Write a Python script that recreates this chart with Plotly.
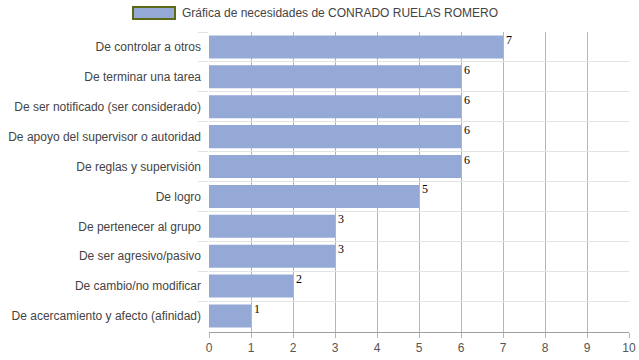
import plotly.graph_objects as go

categories = [
    "De controlar a otros",
    "De terminar una tarea",
    "De ser notificado (ser considerado)",
    "De apoyo del supervisor o autoridad",
    "De reglas y supervisión",
    "De logro",
    "De pertenecer al grupo",
    "De ser agresivo/pasivo",
    "De cambio/no modificar",
    "De acercamiento y afecto (afinidad)",
]
values = [7, 6, 6, 6, 6, 5, 3, 3, 2, 1]
series_name = "Gráfica de necesidades de CONRADO RUELAS ROMERO"
x_ticks = list(range(0, 11))

bar_color = "#94a9d6"

fig = go.Figure()
fig.add_trace(go.Bar(
    x=values, y=categories, orientation="h",
    marker=dict(color=bar_color, line=dict(width=0)),
    showlegend=False, hoverinfo="x+y",
))

for c, v in zip(categories, values):
    fig.add_annotation(
        x=v, y=c, text=str(v), showarrow=False,
        xanchor="left", yanchor="middle", xshift=1, yshift=7,
        font=dict(family="Liberation Serif, Times New Roman, serif", size=12, color="#000"),
    )

# legend (box + text)
fig.add_shape(type="rect", xref="paper", yref="paper",
              x0=(133 - 209) / 420, x1=(175 - 209) / 420,
              y0=(332 - 19) / 300, y1=(332 - 7) / 300,
              fillcolor=bar_color, line=dict(color="#5c6a16", width=2))
fig.add_annotation(xref="paper", yref="paper",
                   x=(180 - 209) / 420, y=(332 - 13) / 300,
                   text=series_name, showarrow=False,
                   xanchor="left", yanchor="middle",
                   font=dict(family="Liberation Sans, Arial, sans-serif", size=12, color="#444"))

fig.update_layout(
    width=639, height=360,
    margin=dict(l=209, r=10, t=32, b=28, autoexpand=False),
    paper_bgcolor="white", plot_bgcolor="white",
    bargap=0.23,
    showlegend=False,
    font=dict(family="Liberation Sans, Arial, sans-serif", size=12, color="#444"),
    xaxis=dict(
        range=[0, 10], tickvals=x_ticks, ticktext=[str(t) for t in x_ticks],
        showgrid=True, gridcolor="#b5b5b5", gridwidth=1,
        zeroline=False, showline=True, linecolor="#a0a0a0", linewidth=1,
        ticks="outside", ticklen=5, tickcolor="#b5b5b5",
        tickfont=dict(size=12, color="#555"), fixedrange=True, automargin=False,
    ),
    yaxis=dict(
        type="category", autorange="reversed",
        tickson="boundaries", showgrid=True, gridcolor="#e3e3e3", gridwidth=1,
        ticks="outside", ticklen=10, tickcolor="#e3e3e3",
        showline=False, zeroline=False, automargin=False,
        tickfont=dict(size=12, color="#444"), ticklabelstandoff=7,
    ),
)

fig.write_html("out.html", config={"displayModeBar": False},
               post_script="document.body.style.margin='0';document.body.style.overflow='hidden';")
